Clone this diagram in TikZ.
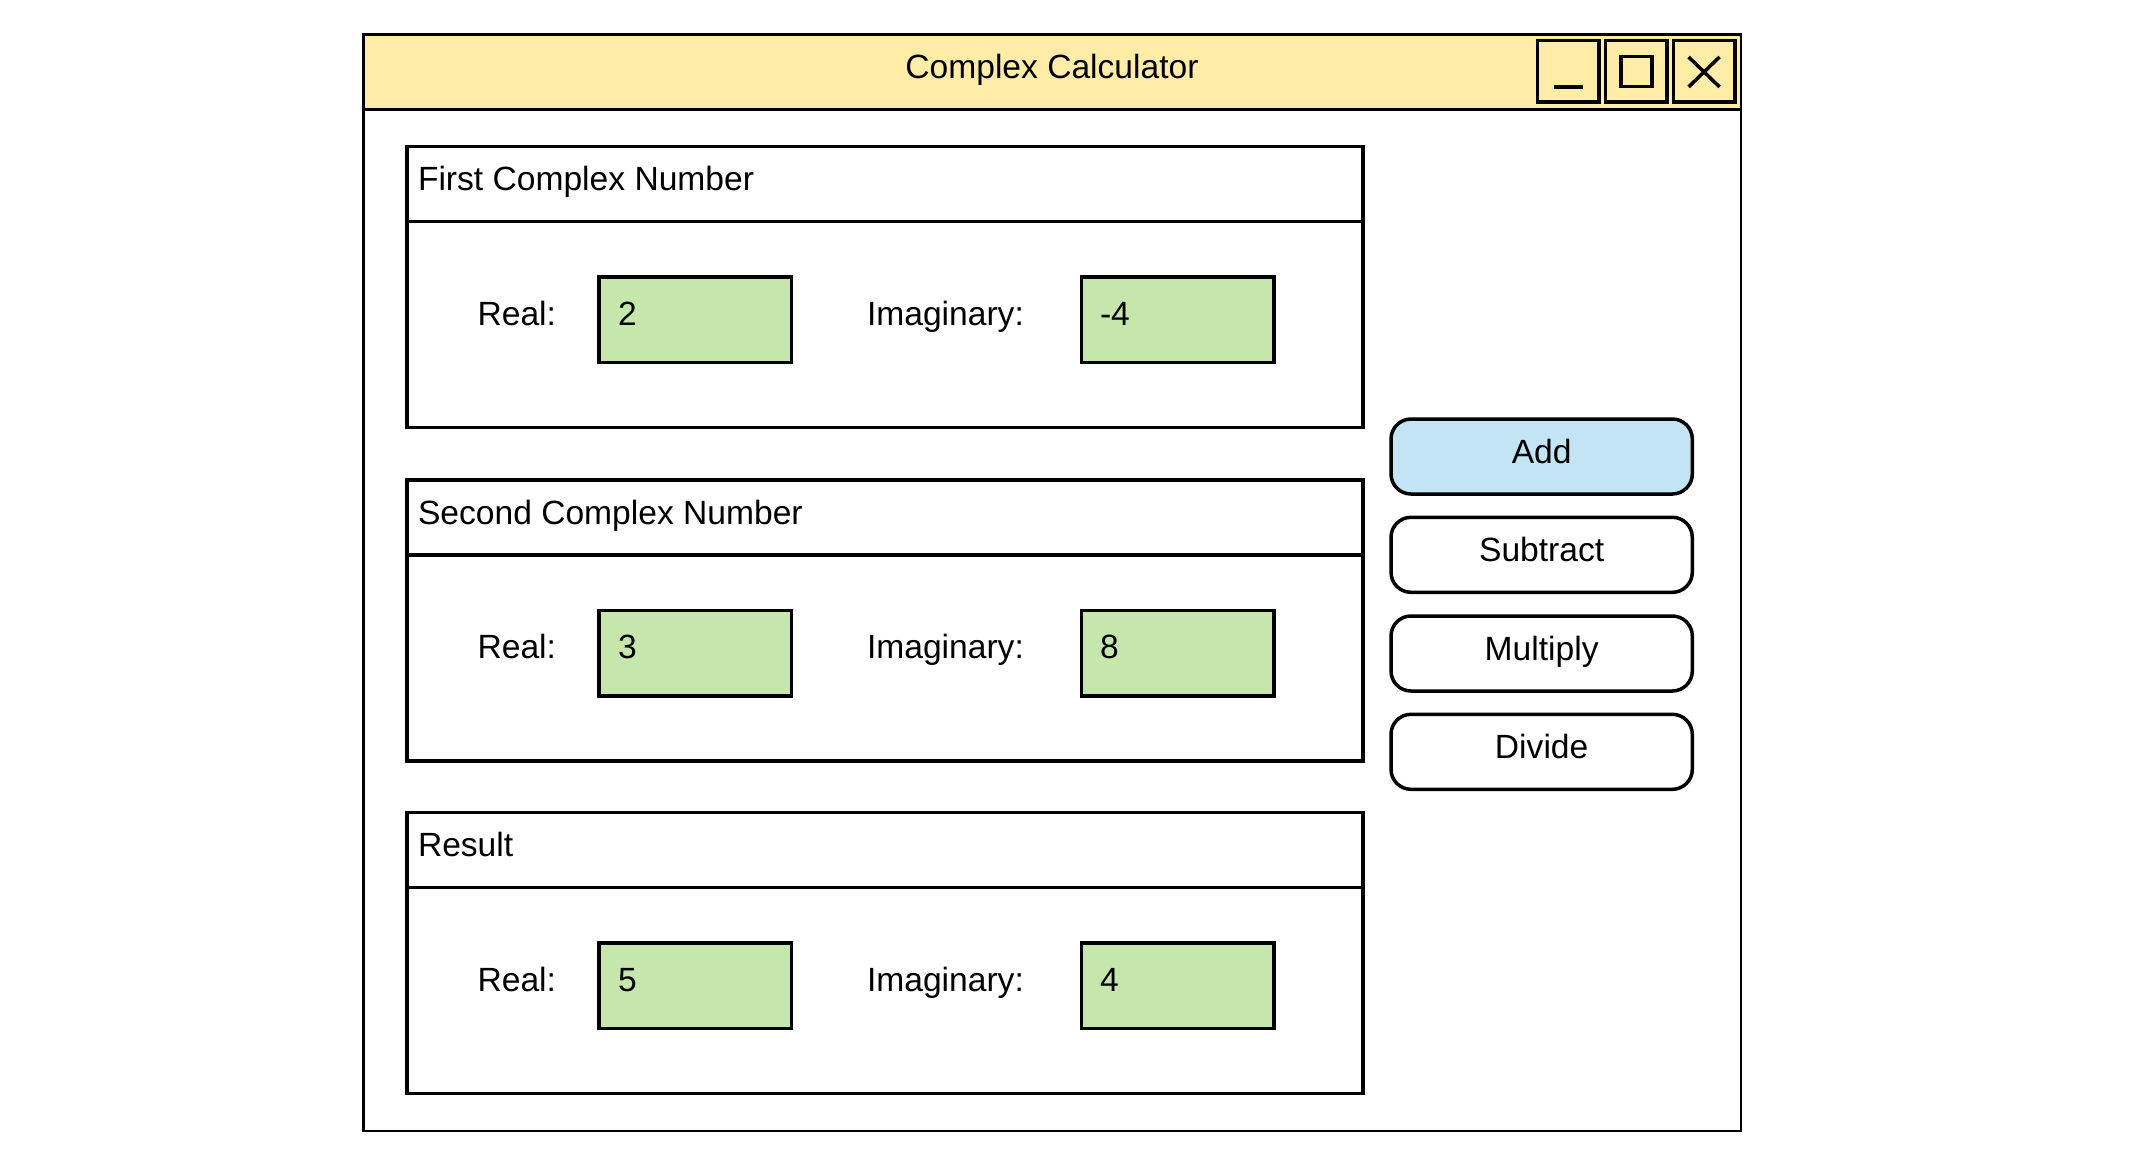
\documentclass[tikz,border=0pt]{standalone}
\usepackage{fontspec}
\setmainfont{Liberation Sans}
\definecolor{titley}{HTML}{FFECA6}
\definecolor{fieldg}{HTML}{C6E7AB}
\definecolor{addb}{HTML}{C2E4F5}
\tikzset{
  winbox/.style={draw, line width=2.7pt, anchor=north west, inner sep=0pt, outer sep=0pt, fill=white},
  titlebar/.style={draw, line width=2.7pt, anchor=north west, inner sep=0pt, outer sep=0pt, fill=titley},
  tbtn/.style={draw, line width=3.5pt, anchor=north west, inner sep=0pt, outer sep=0pt, minimum size=61.5pt},
  panelbox/.style={draw, line width=3.5pt, anchor=north west, inner sep=0pt, outer sep=0pt, minimum width=956pt},
  field/.style={draw, line width=3.5pt, anchor=north west, inner sep=0pt, outer sep=0pt, fill=fieldg, minimum width=192.7pt, minimum height=85.4pt},
  btn/.style={draw, line width=3.5pt, anchor=north west, inner sep=0pt, outer sep=0pt, rounded corners=20pt, minimum width=301.3pt, minimum height=75pt, text height=21pt, text depth=7.6pt, font=\fontsize{33.6}{38}\selectfont},
  txt/.style={inner sep=0pt, outer sep=0pt, font=\fontsize{33.6}{38}\selectfont},
  glyph/.style={line width=3.5pt}
}
\begin{document}
\begin{tikzpicture}[x=1pt,y=-1pt]
\useasboundingbox (0,0) rectangle (2143,1157);
% window
\node[winbox, minimum width=1377.5pt, minimum height=1096.5pt] (win) at (363.5,34.5) {};
\node[titlebar, minimum width=1377.5pt, minimum height=75pt] (tbar) at (363.5,34.5) {};
\node[txt, anchor=base] (ttl) at (1052,78.5) {Complex Calculator};
% title buttons
\node[tbtn] (bmin) at (1537.7,40.7) {};
\node[tbtn] (bmax) at (1605.5,40.7) {};
\node[tbtn] (bclose) at (1673.3,40.7) {};
\draw[glyph] ([shift={(-14.5,15.5)}]bmin.center) -- ([shift={(14.5,15.5)}]bmin.center);
\draw[glyph] ([shift={(-15.5,-15)}]bmax.center) rectangle ([shift={(15.5,15)}]bmax.center);
\draw[glyph] ([shift={(-15.5,-14.5)}]bclose.center) -- ([shift={(15.5,15.5)}]bclose.center);
\draw[glyph] ([shift={(-15.5,15.5)}]bclose.center) -- ([shift={(15.5,-14.5)}]bclose.center);
% panels
\foreach \i/\t/\y/\a/\b in {1/First Complex Number/146.5/2/-4, 2/Second Complex Number/480/3/8, 3/Result/812.5/5/4}{
  \node[panelbox, minimum height=75pt] (h\i) at (407,\y) {};
  \node[panelbox, minimum height=206pt] (p\i) at (407,\y+75) {};
  \node[txt, anchor=base west] (ht\i) at (418,\y+44) {\t};
  \node[field] (re\i) at (599,\y+130.6) {};
  \node[field] (im\i) at (1081.3,\y+130.6) {};
  \node[txt, anchor=base east] (rl\i) at (556,\y+178.8) {Real:};
  \node[txt, anchor=base west] (rv\i) at (618,\y+178.8) {\a};
  \node[txt, anchor=base west] (il\i) at (867,\y+178.8) {Imaginary:};
  \node[txt, anchor=base west] (iv\i) at (1100,\y+178.8) {\b};
}
% operation buttons
\node[btn, fill=addb] (add) at (1391,419) {Add};
\node[btn] (sub) at (1391,517.3) {Subtract};
\node[btn] (mul) at (1391,616) {Multiply};
\node[btn] (div) at (1391,714.3) {Divide};
\end{tikzpicture}
\end{document}
